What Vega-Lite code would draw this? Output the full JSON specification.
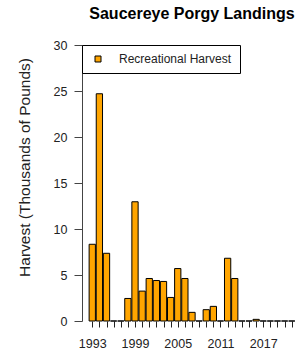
{
  "$schema": "https://vega.github.io/schema/vega-lite/v6.json",
  "width": 220,
  "height": 276,
  "autosize": "none",
  "padding": {"left": 82, "top": 45, "right": 0, "bottom": 36},
  "background": "white",
  "title": {
    "text": "Saucereye Porgy Landings",
    "fontSize": 16,
    "fontWeight": "bold",
    "font": "Liberation Sans",
    "frame": "group",
    "anchor": "middle",
    "offset": 17,
    "color": "black"
  },
  "config": {
    "view": {"stroke": null},
    "font": "Liberation Sans"
  },
  "data": {
    "values": [
      {"year": 1993, "harvest": 8.34, "series": "Recreational Harvest"},
      {"year": 1994, "harvest": 24.7, "series": "Recreational Harvest"},
      {"year": 1995, "harvest": 7.36, "series": "Recreational Harvest"},
      {"year": 1996, "harvest": 0, "series": "Recreational Harvest"},
      {"year": 1997, "harvest": 0, "series": "Recreational Harvest"},
      {"year": 1998, "harvest": 2.45, "series": "Recreational Harvest"},
      {"year": 1999, "harvest": 12.96, "series": "Recreational Harvest"},
      {"year": 2000, "harvest": 3.25, "series": "Recreational Harvest"},
      {"year": 2001, "harvest": 4.62, "series": "Recreational Harvest"},
      {"year": 2002, "harvest": 4.4, "series": "Recreational Harvest"},
      {"year": 2003, "harvest": 4.3, "series": "Recreational Harvest"},
      {"year": 2004, "harvest": 2.56, "series": "Recreational Harvest"},
      {"year": 2005, "harvest": 5.7, "series": "Recreational Harvest"},
      {"year": 2006, "harvest": 4.62, "series": "Recreational Harvest"},
      {"year": 2007, "harvest": 0.94, "series": "Recreational Harvest"},
      {"year": 2008, "harvest": 0, "series": "Recreational Harvest"},
      {"year": 2009, "harvest": 1.23, "series": "Recreational Harvest"},
      {"year": 2010, "harvest": 1.59, "series": "Recreational Harvest"},
      {"year": 2011, "harvest": 0, "series": "Recreational Harvest"},
      {"year": 2012, "harvest": 6.82, "series": "Recreational Harvest"},
      {"year": 2013, "harvest": 4.62, "series": "Recreational Harvest"},
      {"year": 2014, "harvest": 0, "series": "Recreational Harvest"},
      {"year": 2015, "harvest": 0, "series": "Recreational Harvest"},
      {"year": 2016, "harvest": 0.18, "series": "Recreational Harvest"},
      {"year": 2017, "harvest": 0, "series": "Recreational Harvest"},
      {"year": 2018, "harvest": 0, "series": "Recreational Harvest"},
      {"year": 2019, "harvest": 0, "series": "Recreational Harvest"},
      {"year": 2020, "harvest": 0, "series": "Recreational Harvest"},
      {"year": 2021, "harvest": 0, "series": "Recreational Harvest"}
    ]
  },
  "mark": {"type": "bar", "stroke": "black", "strokeWidth": 1},
  "encoding": {
    "x": {
      "field": "year",
      "type": "ordinal",
      "scale": {"paddingInner": 0.12, "paddingOuter": 1.27},
      "axis": {
        "title": null,
        "domain": false,
        "labelAngle": 0,
        "labelExpr": "(datum.value - 1993) % 6 == 0 ? datum.value : ''",
        "labelFontSize": 12.5,
        "labelColor": "#222",
        "labelPadding": 10,
        "tickSize": 6,
        "tickColor": "#222",
        "tickOffset": 0
      }
    },
    "y": {
      "field": "harvest",
      "type": "quantitative",
      "scale": {"domain": [0, 30], "nice": false},
      "axis": {
        "title": "Harvest (Thousands of Pounds)",
        "values": [0, 5, 10, 15, 20, 25, 30],
        "grid": false,
        "domainColor": "#444",
        "tickColor": "#444",
        "tickSize": 8,
        "labelFontSize": 12.5,
        "labelColor": "#222",
        "labelPadding": 7,
        "titleFontSize": 15.5,
        "titleFontWeight": "normal",
        "titleColor": "#222",
        "titleX": -53,
        "titleY": 122,
        "titleBaseline": "alphabetic",
        "titleAlign": "center"
      }
    },
    "color": {
      "field": "series",
      "type": "nominal",
      "scale": {"range": ["#FFA500"]},
      "legend": {
        "title": null,
        "orient": "none",
        "legendX": 0,
        "legendY": 0,
        "direction": "vertical",
        "strokeColor": "black",
        "fillColor": "white",
        "padding": 8,
        "symbolType": "square",
        "symbolSize": 36,
        "symbolStrokeColor": "black",
        "symbolStrokeWidth": 1,
        "symbolOffset": 2,
        "labelOffset": 15,
        "labelFontSize": 12,
        "labelColor": "#222"
      }
    }
  }
}
